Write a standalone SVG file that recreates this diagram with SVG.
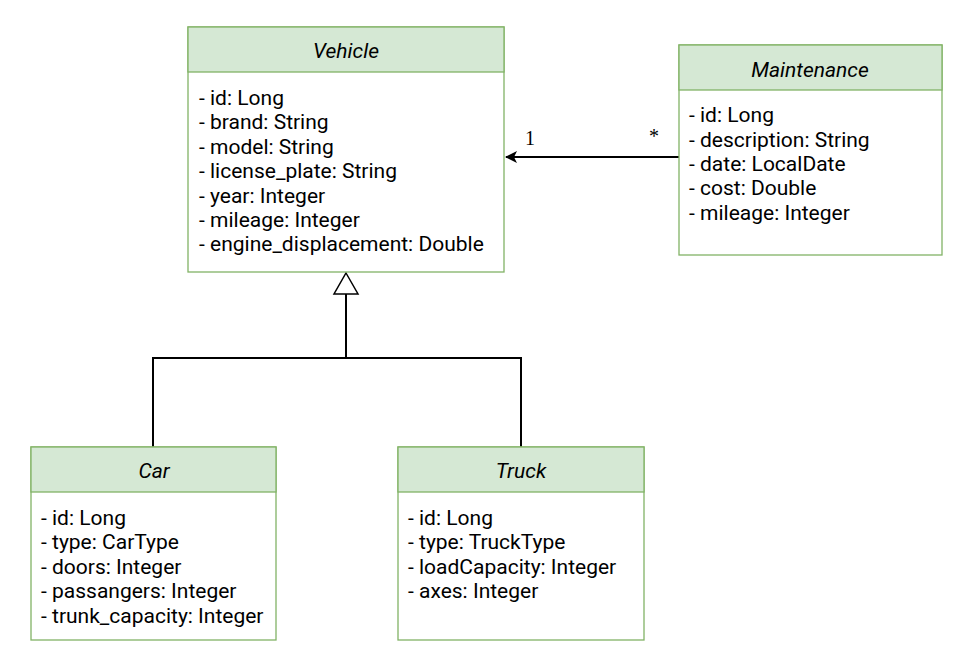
<svg xmlns="http://www.w3.org/2000/svg" width="962" height="666" viewBox="0 0 962 666">
<defs>
<style>
.box{fill:#ffffff;stroke:#82b366;stroke-width:1.3}
.hdr{fill:#d5e8d4;stroke:#82b366;stroke-width:1.3}
.title{font-family:Roboto,"Liberation Sans",sans-serif;font-size:21px;font-style:italic;fill:#000;text-anchor:middle}
.attr{font-family:Roboto,"Liberation Sans",sans-serif;font-size:21px;fill:#000}
.lbl{font-family:"Liberation Serif",serif;font-size:20px;fill:#000}
.line{fill:none;stroke:#000;stroke-width:2}
</style>
<marker id="open" viewBox="0 0 12 12" refX="11" refY="6" markerWidth="12" markerHeight="12" markerUnits="userSpaceOnUse" orient="auto">
<path d="M0,0 L12,6 L0,12 L3,6 Z" fill="#000"/>
</marker>
</defs>
<rect width="962" height="666" fill="#ffffff"/>
<g id="connectors">
<path class="line" d="M679,157 L506,157" marker-end="url(#open)"/>
<text class="lbl" x="525" y="145">1</text>
<text class="lbl" x="649" y="143">*</text>
<path class="line" d="M153,447 L153,358 L521,358 L521,447"/>
<path class="line" d="M346,358 L346,294"/>
<path d="M346,273 L358,294 L334,294 Z" fill="#fff" stroke="#000" stroke-width="1.5"/>
</g>
<g id="vehicle">
<rect class="box" x="188" y="27" width="316" height="245"/>
<rect class="hdr" x="188" y="27" width="316" height="45"/>
<text class="title" x="346" y="58">Vehicle</text>
<text class="attr" x="199" y="105">- id: Long</text>
<text class="attr" x="199" y="129">- brand: String</text>
<text class="attr" x="199" y="154">- model: String</text>
<text class="attr" x="199" y="178">- license_plate: String</text>
<text class="attr" x="199" y="203">- year: Integer</text>
<text class="attr" x="199" y="227">- mileage: Integer</text>
<text class="attr" x="199" y="251">- engine_displacement: Double</text>
</g>
<g id="maintenance">
<rect class="box" x="679" y="45" width="263" height="210"/>
<rect class="hdr" x="679" y="45" width="263" height="45"/>
<text class="title" x="810" y="77">Maintenance</text>
<text class="attr" x="689" y="122">- id: Long</text>
<text class="attr" x="689" y="147">- description: String</text>
<text class="attr" x="689" y="171">- date: LocalDate</text>
<text class="attr" x="689" y="195">- cost: Double</text>
<text class="attr" x="689" y="220">- mileage: Integer</text>
</g>
<g id="car">
<rect class="box" x="31" y="447" width="245" height="193"/>
<rect class="hdr" x="31" y="447" width="245" height="45"/>
<text class="title" x="154" y="478">Car</text>
<text class="attr" x="41" y="525">- id: Long</text>
<text class="attr" x="41" y="549">- type: CarType</text>
<text class="attr" x="41" y="574">- doors: Integer</text>
<text class="attr" x="41" y="598">- passangers: Integer</text>
<text class="attr" x="41" y="623">- trunk_capacity: Integer</text>
</g>
<g id="truck">
<rect class="box" x="398" y="447" width="246" height="193"/>
<rect class="hdr" x="398" y="447" width="246" height="45"/>
<text class="title" x="521" y="478">Truck</text>
<text class="attr" x="408" y="525">- id: Long</text>
<text class="attr" x="408" y="549">- type: TruckType</text>
<text class="attr" x="408" y="574">- loadCapacity: Integer</text>
<text class="attr" x="408" y="598">- axes: Integer</text>
</g>
</svg>
